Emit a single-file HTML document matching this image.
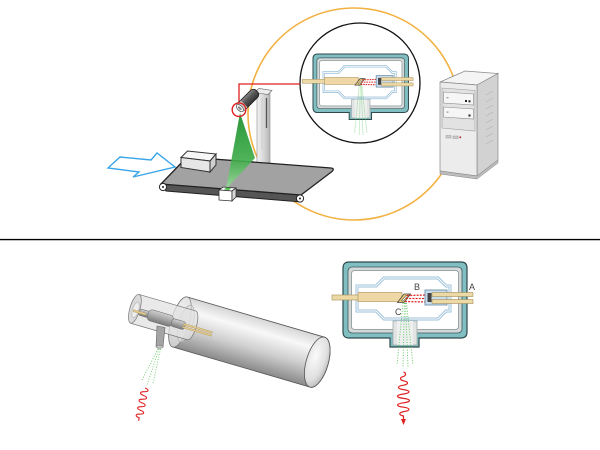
<!DOCTYPE html>
<html><head><meta charset="utf-8"><style>
html,body{margin:0;padding:0;background:#fff;}
svg{display:block;}
text{font-family:"Liberation Sans",sans-serif;}
</style></head><body>
<svg width="600" height="450" viewBox="0 0 600 450" xmlns="http://www.w3.org/2000/svg">
<defs>
<linearGradient id="beam" x1="0" y1="0" x2="0" y2="1">
<stop offset="0" stop-color="#138a25"/><stop offset="0.6" stop-color="#3aaa45"/><stop offset="1" stop-color="#9ddc9d"/>
</linearGradient>
<linearGradient id="cyl" x1="0" y1="0" x2="0" y2="1">
<stop offset="0" stop-color="#d6d6d6"/><stop offset="0.25" stop-color="#f8f8f8"/><stop offset="0.6" stop-color="#cfcfcf"/><stop offset="1" stop-color="#8a8a8a"/>
</linearGradient>
<radialGradient id="cap" cx="0.35" cy="0.4" r="0.8">
<stop offset="0" stop-color="#fbfbfb"/><stop offset="0.6" stop-color="#dedede"/><stop offset="1" stop-color="#a5a5a5"/>
</radialGradient>
<linearGradient id="pole" x1="0" y1="0" x2="1" y2="0">
<stop offset="0" stop-color="#f2f2f2"/><stop offset="0.5" stop-color="#d8d8d8"/><stop offset="1" stop-color="#b5b5b5"/>
</linearGradient>
<linearGradient id="cam" x1="0" y1="0" x2="0" y2="1">
<stop offset="0" stop-color="#8a8a8a"/><stop offset="0.4" stop-color="#5a5a5a"/><stop offset="1" stop-color="#333"/>
</linearGradient>
<linearGradient id="tube" x1="0" y1="0" x2="0" y2="1">
<stop offset="0" stop-color="#d0d0d0"/><stop offset="0.5" stop-color="#a6a6a6"/><stop offset="1" stop-color="#7a7a7a"/>
</linearGradient>
</defs>

<!-- orange loop -->
<circle cx="354" cy="114" r="106" fill="none" stroke="#f2b243" stroke-width="1.6"/>

<!-- black inset circle -->
<circle cx="360" cy="83" r="60" fill="#fff" stroke="#111" stroke-width="1.3"/>

<!-- upper device -->
<g transform="translate(313,54) scale(0.77)">
<path d="M6,0 H118 Q124,0 124,6 V70 Q124,76 118,76 H76 V85 H47 V76 H6 Q0,76 0,70 V6 Q0,0 6,0 Z" fill="#80bec2" stroke="#2e4a4c" stroke-width="1.3"/>
<rect x="5" y="5" width="114" height="66" rx="4" fill="#d4d8d8" stroke="#3c5a5c" stroke-width="0.9"/>
<rect x="8.5" y="8.5" width="107" height="59" rx="3" fill="#fff" stroke="#9aa4a4" stroke-width="1.1"/>
<rect x="50" y="59" width="24" height="24" fill="#e2e4e4" stroke="#a0acac" stroke-width="0.9"/>
<rect x="54" y="59" width="16" height="24" fill="#eef0f0"/>
<path d="M14,24 H33 L41,16 H95 L103,24 H107 V49 H103 L95,57 H41 L33,49 H14 Z" fill="none" stroke="#9cc0da" stroke-width="3.2"/>
<path d="M14,24 H33 L41,16 H95 L103,24 H107 V49 H103 L95,57 H41 L33,49 H14 Z" fill="none" stroke="#fff" stroke-width="1.1"/>
<g stroke="#5cc45c" stroke-width="1" stroke-dasharray="1 1.6" fill="none">
<line x1="60" y1="41" x2="54" y2="103"/><line x1="61.5" y1="41" x2="60" y2="105"/><line x1="62.5" y1="41" x2="65" y2="105"/><line x1="63.5" y1="41" x2="70" y2="103"/>
</g>
<rect x="-14" y="33" width="30" height="5" fill="#edd9a6" stroke="#a68d55" stroke-width="0.6"/>
<rect x="15" y="30.5" width="44" height="9" fill="#f0d8a6" stroke="#b39a60" stroke-width="0.8"/>
<polygon points="54.5,40.5 61,32 67.5,32 61,40.5" fill="#e6c66c" stroke="#444" stroke-width="0.9"/>
<polygon points="58.5,39 63,33.5 64.8,33.5 60.3,39" fill="#fff" stroke="#333" stroke-width="0.5"/>
<g stroke="#e02828" stroke-width="1.4" stroke-dasharray="2 1.2">
<line x1="64" y1="33.5" x2="84" y2="33"/><line x1="63" y1="36.5" x2="84" y2="36.5"/><line x1="62" y1="39.5" x2="84" y2="40"/>
</g>
<rect x="82" y="28" width="22" height="15" fill="#c8dced" stroke="#5f86a0" stroke-width="0.9"/>
<rect x="84.5" y="31" width="4" height="9" fill="#444"/>
<rect x="89" y="30.5" width="41" height="4" fill="#edd9a6" stroke="#a68d55" stroke-width="0.6"/>
<rect x="89" y="37.5" width="41" height="4" fill="#edd9a6" stroke="#a68d55" stroke-width="0.6"/>
</g>

<!-- red link line -->
<path d="M300,84 H239 V103" fill="none" stroke="#e02020" stroke-width="1.3"/>

<!-- camera pole -->
<rect x="257" y="93" width="13" height="72" fill="url(#pole)" stroke="#8a8a8a" stroke-width="0.6"/>
<line x1="266.5" y1="98" x2="266.5" y2="128" stroke="#555" stroke-width="1.3"/>
<line x1="262" y1="98" x2="262" y2="150" stroke="#c8c8c8" stroke-width="0.8"/>
<polygon points="254,92.5 259,88.5 272,90.5 268,94.5" fill="#ececec" stroke="#666" stroke-width="0.6"/>

<!-- blue arrow -->
<polygon points="108,168 120,157 151,160 157,153 175,167 133,177 139,172" fill="#fff" stroke="#3aa5e8" stroke-width="1.4" stroke-linejoin="miter"/>

<!-- conveyor -->
<polygon points="161,184 301,195 301,202 166,191" fill="#555" stroke="#222" stroke-width="1"/>
<path d="M187,157 L331,168 Q335,168.5 332,171.5 L301,195 L161,184 Z" fill="#a2a2a2" stroke="#222" stroke-width="1.3" stroke-linejoin="round"/>
<circle cx="163" cy="187" r="3.6" fill="#fff" stroke="#222" stroke-width="1"/>
<circle cx="163" cy="187" r="1" fill="#222"/>
<circle cx="300" cy="198.5" r="3.6" fill="#fff" stroke="#222" stroke-width="1"/>
<circle cx="300" cy="198.5" r="1" fill="#222"/>

<!-- package -->
<polygon points="181,157.5 187.5,151 216,154 210,161" fill="#f6f6f6" stroke="#333" stroke-width="1"/>
<polygon points="181,157.5 210,161 210,172 181,167.5" fill="#e6e6e6" stroke="#333" stroke-width="1"/>
<polygon points="210,161 216,154 216,165 210,172" fill="#cfcfcf" stroke="#333" stroke-width="1"/>

<!-- green beam -->
<polygon points="240,113 226,189 255,158" fill="url(#beam)" opacity="0.9"/>

<!-- sensor block -->
<polygon points="219,190 223,187 236,188 232,191" fill="#f4f4f4" stroke="#333" stroke-width="0.8"/>
<polygon points="219,190 232,191 232,201 219,200" fill="#fff" stroke="#333" stroke-width="0.8"/>
<polygon points="232,191 236,188 236,197 232,201" fill="#d8d8d8" stroke="#333" stroke-width="0.8"/>
<polygon points="224,189.5 229,190 231,188 226,187.6" fill="#4cbc4c"/>

<!-- camera -->
<g transform="translate(238.5,109.5) rotate(-45)">
<rect x="1" y="-5" width="25" height="10" rx="4" fill="url(#cam)" stroke="#222" stroke-width="0.8"/>
<rect x="2" y="-4.6" width="6" height="9.2" fill="#cfcfcf"/>
<ellipse cx="2" cy="0" rx="2.5" ry="4.6" fill="#f2f2f2" stroke="#333" stroke-width="0.6"/>
<ellipse cx="1.8" cy="0" rx="1.1" ry="2.3" fill="#888"/>
</g>
<circle cx="239" cy="109.7" r="6.8" fill="none" stroke="#e02020" stroke-width="1.4"/>

<!-- computer -->
<polygon points="440,82 465,71 498,73.5 477,85" fill="#f4f4f4" stroke="#888" stroke-width="0.7"/>
<polygon points="477,85 498,73.5 498,160 477,176" fill="#d2d2d2" stroke="#888" stroke-width="0.7"/>
<polygon points="440,82 477,85 477,176 440,171" fill="#ececec" stroke="#888" stroke-width="0.7"/>
<polygon points="442,88 475,90.5 475,131 442,128" fill="#e2e2e2" stroke="#9a9a9a" stroke-width="0.6"/>
<polygon points="443.5,92 473.5,94 473.5,105 443.5,103" fill="#f6f6f6" stroke="#888" stroke-width="0.6"/>
<polygon points="443.5,107 473.5,109 473.5,119 443.5,117" fill="#f6f6f6" stroke="#888" stroke-width="0.6"/>
<rect x="465" y="100" width="2" height="2" fill="#222"/><rect x="468.5" y="100.3" width="2" height="2" fill="#222"/>
<rect x="468.5" y="114.5" width="2" height="2" fill="#222"/>
<rect x="446.5" y="97" width="2" height="1.2" fill="#999"/><rect x="446.5" y="111.5" width="2" height="1.2" fill="#999"/>
<rect x="446" y="135.5" width="5" height="2.5" fill="#ccc" stroke="#888" stroke-width="0.4"/>
<rect x="453" y="136" width="5" height="2.5" fill="#ccc" stroke="#888" stroke-width="0.4"/>
<rect x="459.5" y="136.5" width="1.6" height="1.6" fill="#c02020"/>
<g stroke="#b4b4b4" stroke-width="0.7">
<line x1="486" y1="95" x2="493" y2="91"/><line x1="486" y1="102" x2="493" y2="98"/><line x1="486" y1="109" x2="493" y2="105"/>
<line x1="486" y1="116" x2="493" y2="112"/><line x1="486" y1="123" x2="493" y2="119"/><line x1="486" y1="130" x2="493" y2="126"/>
<line x1="486" y1="137" x2="493" y2="133"/><line x1="486" y1="144" x2="493" y2="140"/>
</g>
<polygon points="440,171 477,176 498,160 498,163 477,179 440,174" fill="#bdbdbd" stroke="#888" stroke-width="0.5"/>

<!-- separator -->
<line x1="0" y1="239.6" x2="600" y2="239.6" stroke="#000" stroke-width="1.4"/>

<!-- bottom: cylinder -->
<g transform="translate(180,322) rotate(16.3)">
<path d="M0,-26 H143 A11,26 0 0 1 143,26 H0 A9,26 0 0 1 0,-26 Z" fill="url(#cyl)" stroke="#555" stroke-width="0.8"/>
<ellipse cx="143" cy="0" rx="11" ry="26" fill="url(#cap)" stroke="#555" stroke-width="0.8"/>
<ellipse cx="0" cy="0" rx="9" ry="26" fill="#e8e8e8" fill-opacity="0.7" stroke="#777" stroke-width="0.7"/>
<ellipse cx="6" cy="0" rx="7" ry="19" fill="#dcdcdc" fill-opacity="0.6" stroke="#a5a5a5" stroke-width="0.6"/>
<path d="M-47,-15 H12 A5,15 0 0 1 12,15 H-47 Z" fill="#e2e2e2" fill-opacity="0.75" stroke="#777" stroke-width="0.7"/>
<ellipse cx="-47" cy="0" rx="5" ry="15" fill="#dadada" stroke="#777" stroke-width="0.7"/>
<ellipse cx="-46" cy="1" rx="3" ry="8" fill="#eee" stroke="#aaa" stroke-width="0.5"/>
<rect x="-42" y="-1.5" width="10" height="6.5" rx="2" fill="url(#tube)" stroke="#666" stroke-width="0.5"/>
<rect x="-33" y="-4" width="26" height="11.5" rx="4" fill="url(#tube)" stroke="#666" stroke-width="0.5"/>
<rect x="-8" y="-1.5" width="14" height="8" rx="2.5" fill="url(#tube)" stroke="#666" stroke-width="0.5"/>
<rect x="-48" y="1.2" width="13" height="2" fill="#e2c98a" stroke="#a68d55" stroke-width="0.3"/>
<rect x="4" y="0.2" width="30" height="1.7" fill="#e2c98a" stroke="#a68d55" stroke-width="0.3"/>
<rect x="4" y="3.2" width="30" height="1.7" fill="#e2c98a" stroke="#a68d55" stroke-width="0.3"/>
</g>
<polygon points="157,326 165,327.5 163,347 156,346" fill="#a4a4a4" stroke="#666" stroke-width="0.6"/>
<ellipse cx="159.5" cy="346.7" rx="3.6" ry="1.6" fill="#c0c0c0" stroke="#666" stroke-width="0.5"/>
<g stroke="#6cc86c" stroke-width="0.9" stroke-dasharray="1 1.6" fill="none">
<line x1="158" y1="349" x2="142" y2="380"/><line x1="159" y1="349" x2="147" y2="385"/><line x1="160.5" y1="349" x2="153" y2="383"/>
</g>
<g transform="translate(145,388) rotate(11)">
<path d="M0,0 c4.6,.76 4.6,3.04 0,3.8 c-4.6,.76 -4.6,3.04 0,3.8 c4.6,.76 4.6,3.04 0,3.8 c-4.6,.76 -4.6,3.04 0,3.8 c4.6,.76 4.6,3.04 0,3.8 c-4.6,.76 -4.6,3.04 0,3.8 c4.6,.76 4.6,3.04 0,3.8 c-4.6,.76 -4.6,3.04 0,3.8 v3" fill="none" stroke="#e02020" stroke-width="1.1"/>
</g>

<!-- lower device -->
<g transform="translate(343,262)">
<path d="M6,0 H118 Q124,0 124,6 V70 Q124,76 118,76 H76 V85 H47 V76 H6 Q0,76 0,70 V6 Q0,0 6,0 Z" fill="#80bec2" stroke="#2e4a4c" stroke-width="1.2"/>
<rect x="5" y="5" width="114" height="66" rx="4" fill="#d4d8d8" stroke="#3c5a5c" stroke-width="0.8"/>
<rect x="8.5" y="8.5" width="107" height="59" rx="3" fill="#fff" stroke="#9aa4a4" stroke-width="1"/>
<rect x="50" y="59" width="24" height="24" fill="#e2e4e4" stroke="#a0acac" stroke-width="0.8"/>
<rect x="54" y="59" width="16" height="24" fill="#eef0f0"/>
<path d="M14,24 H33 L41,16 H95 L103,24 H107 V49 H103 L95,57 H41 L33,49 H14 Z" fill="none" stroke="#9cc0da" stroke-width="3"/>
<path d="M14,24 H33 L41,16 H95 L103,24 H107 V49 H103 L95,57 H41 L33,49 H14 Z" fill="none" stroke="#fff" stroke-width="1"/>
<g stroke="#5cc45c" stroke-width="0.9" stroke-dasharray="1 1.6" fill="none">
<line x1="60" y1="41" x2="54" y2="103"/><line x1="61.5" y1="41" x2="60" y2="105"/><line x1="62.5" y1="41" x2="65" y2="105"/><line x1="63.5" y1="41" x2="70" y2="103"/>
</g>
<rect x="-11" y="33" width="27" height="5" fill="#edd9a6" stroke="#a68d55" stroke-width="0.6"/>
<rect x="15" y="30.5" width="44" height="9" fill="#f0d8a6" stroke="#b39a60" stroke-width="0.7"/>
<polygon points="54.5,40.5 61,32 67.5,32 61,40.5" fill="#e6c66c" stroke="#444" stroke-width="0.8"/>
<polygon points="58.5,39 63,33.5 64.8,33.5 60.3,39" fill="#fff" stroke="#333" stroke-width="0.5"/>
<g stroke="#e02828" stroke-width="1.3" stroke-dasharray="2 1.2">
<line x1="64" y1="33.5" x2="84" y2="33"/><line x1="63" y1="36.5" x2="84" y2="36.5"/><line x1="62" y1="39.5" x2="84" y2="40"/>
</g>
<rect x="82" y="28" width="22" height="15" fill="#c8dced" stroke="#5f86a0" stroke-width="0.8"/>
<rect x="84.5" y="31" width="4" height="9" fill="#444"/>
<rect x="89" y="30.5" width="41" height="4" fill="#edd9a6" stroke="#a68d55" stroke-width="0.6"/>
<rect x="89" y="37.5" width="41" height="4" fill="#edd9a6" stroke="#a68d55" stroke-width="0.6"/>
<text x="126" y="28" font-size="9" fill="#444">A</text>
<text x="71" y="28" font-size="9" fill="#444">B</text>
<text x="52" y="53" font-size="9" fill="#444">C</text>
</g>
<path d="M403.5,372 c2.7,.9 2.7,3.5 0,4.4 c-4,.9 -4,3.5 0,4.4 c5.3,.9 5.3,3.5 0,4.4 c-6.7,.9 -6.7,3.5 0,4.4 c7.3,.9 7.3,3.5 0,4.4 c-8,.9 -8,3.5 0,4.4 c8,.9 8,3.5 0,4.4 c-8,.9 -8,3.5 0,4.4 c7.3,.9 7.3,3.5 0,4.4 c-5,.9 -5,3.5 0,4.4 v4" fill="none" stroke="#e02020" stroke-width="1.2"/>
<polygon points="403.5,425 401,419 406,419" fill="#e02020"/>
</svg>
</body></html>
